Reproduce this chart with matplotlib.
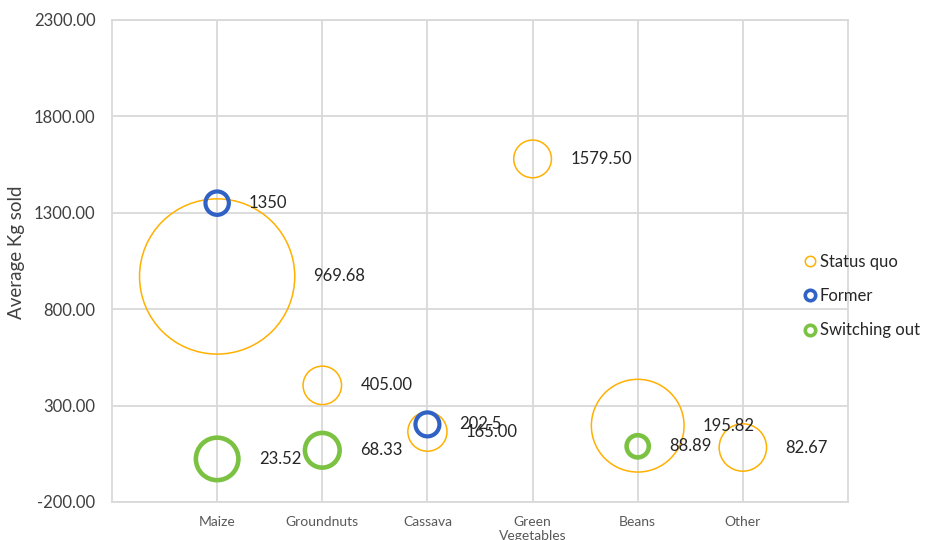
import matplotlib
matplotlib.use("Agg")
import matplotlib.pyplot as plt
from matplotlib.lines import Line2D
import numpy as np

plt.rcParams['font.family'] = ['Lato', 'DejaVu Sans']

# Crops on the category axis
categories = ["Maize", "Groundnuts", "Cassava", "Green\nVegetables", "Beans", "Other"]

# Average kg sold (y) and bubble size for each group
status_x = ["Maize", "Groundnuts", "Cassava", "Green\nVegetables", "Beans", "Other"]
status_y = [969.68, 405.00, 165.00, 1579.50, 195.82, 82.67]
status_size = [44.0, 2.7, 2.8, 2.6, 15.7, 4.1]

former_x = ["Maize", "Cassava"]
former_y = [1350, 202.5]
former_size = [1.0, 1.05]

switch_x = ["Maize", "Groundnuts", "Beans"]
switch_y = [23.52, 68.33, 88.89]
switch_size = [3.3, 2.2, 0.9]

yticks = [-200, 300, 800, 1300, 1800, 2300]

ORANGE = "#FFB000"
BLUE = "#2F62C4"
GREEN = "#7CC242"
GRID = "#D9D9D9"

DPI = 100
fig = plt.figure(figsize=(9.25, 5.4), dpi=DPI)
ax = fig.add_axes([112 / 925, 1 - 502 / 540, 736 / 925, 482 / 540])

R1_PX = 11.7                      # radius in pixels of a size-1 bubble
PX2PT = 72 / DPI


def draw_series(xs, ys, sizes, color, lw_pt, fmt):
    pos = [categories.index(c) + 1 for c in xs]
    r_px = R1_PX * np.sqrt(np.array(sizes))
    s = (2 * r_px * PX2PT) ** 2
    ax.scatter(pos, ys, s=s, facecolors="none", edgecolors=color,
               linewidths=lw_pt, zorder=3)
    for x, y, r in zip(pos, ys, r_px):
        off_pt = (r + lw_pt / PX2PT / 2 + 18) * PX2PT
        ax.annotate(fmt(y), (x, y), xytext=(off_pt, 0), textcoords="offset points",
                    ha="left", va="center", fontsize=12, color="#262626", zorder=4)


draw_series(status_x, status_y, status_size, ORANGE, 1.1, lambda v: f"{v:.2f}")
draw_series(former_x, former_y, former_size, BLUE, 3.0, lambda v: f"{v:g}")
draw_series(switch_x, switch_y, switch_size, GREEN, 3.3, lambda v: f"{v:.2f}")

ax.set_xlim(0, 7)
ax.set_ylim(-200, 2300)
ax.set_xticks(range(1, len(categories) + 1))
ax.set_xticklabels(categories, fontsize=10, color="#595959")
ax.set_yticks(yticks)
ax.set_yticklabels([f"{v:.2f}" for v in yticks], fontsize=12, color="#404040")
ax.tick_params(axis="both", length=0)
ax.tick_params(axis="y", pad=12)
ax.tick_params(axis="x", pad=10)
ax.grid(True, color=GRID, linewidth=1.3, zorder=0)
ax.set_axisbelow(True)
for sp in ax.spines.values():
    sp.set_color(GRID)
    sp.set_linewidth(1.3)

ax.set_ylabel("Average Kg sold", fontsize=13.5, color="#404040")
ax.yaxis.set_label_coords((25 - 112) / 736, (502 - 252) / 482)

handles = [
    Line2D([], [], linestyle="none", marker="o", markersize=7.5,
           markerfacecolor="none", markeredgecolor=ORANGE, markeredgewidth=1.1),
    Line2D([], [], linestyle="none", marker="o", markersize=7.5,
           markerfacecolor="none", markeredgecolor=BLUE, markeredgewidth=2.6),
    Line2D([], [], linestyle="none", marker="o", markersize=7.5,
           markerfacecolor="none", markeredgecolor=GREEN, markeredgewidth=2.6),
]
fig.legend(handles, ["Status quo", "Former", "Switching out"],
           loc="center left", bbox_to_anchor=(797 / 925, 1 - 296 / 540),
           frameon=False, fontsize=12, handlelength=0.6, handletextpad=0.25,
           labelspacing=1.1, borderpad=0, labelcolor="#262626")

fig.savefig("out.png", dpi=DPI)
